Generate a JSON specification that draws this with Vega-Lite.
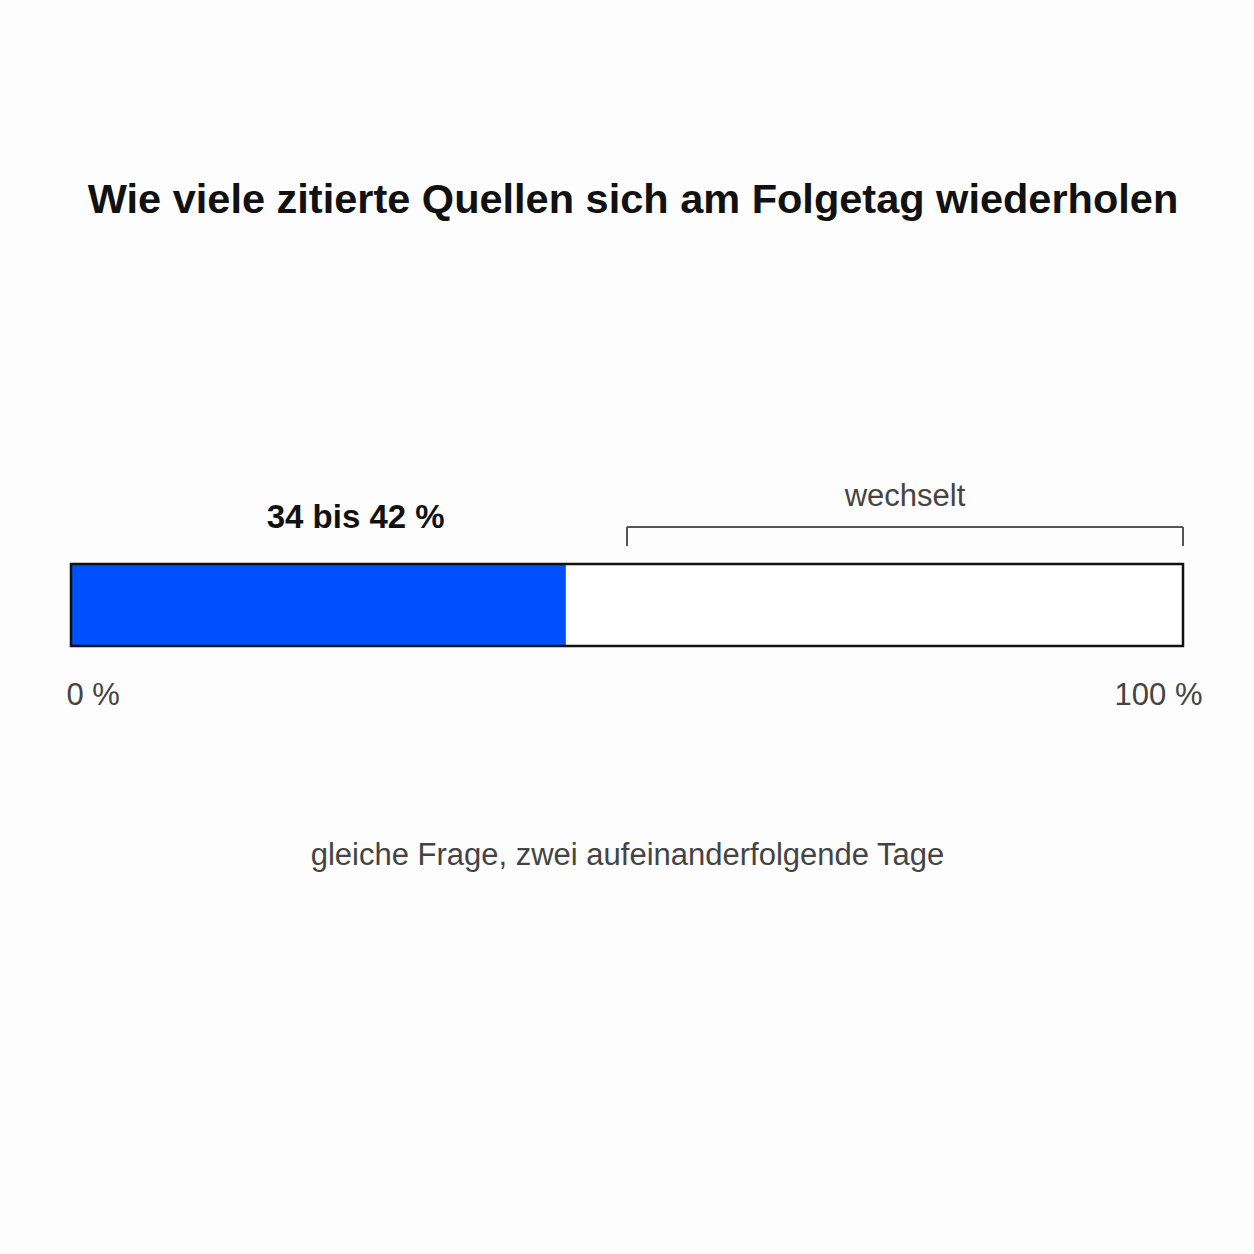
{
  "$schema": "https://vega.github.io/schema/vega-lite/v6.json",
  "autosize": "none",
  "width": 1112,
  "height": 200,
  "padding": {"left": 71, "top": 446, "right": 71, "bottom": 608},
  "background": "#fdfdfd",
  "config": {"view": {"stroke": null}, "font": "Liberation Sans"},
  "title": {
    "text": "Wie viele zitierte Quellen sich am Folgetag wiederholen",
    "font": "Liberation Sans",
    "fontSize": 41.5,
    "fontWeight": "bold",
    "color": "#111111",
    "anchor": "middle",
    "dx": 6,
    "offset": 225
  },
  "datasets": {
    "bars": [
      {"part": "gleich", "from": 0, "to": 44.5}
    ],
    "frame": [
      {"from": 0, "to": 100, "low": 0, "high": 4.1}
    ],
    "bracket": [
      {"x": 50, "x2": 100, "y": 5.95, "y2": 5.95},
      {"x": 50, "x2": 50, "y": 5.0, "y2": 5.95},
      {"x": 100, "x2": 100, "y": 5.0, "y2": 5.95}
    ],
    "valueLabel": [
      {"text": "34 bis 42 %", "x": 25.6, "y": 6.4}
    ],
    "noteLabel": [
      {"text": "wechselt", "x": 75, "y": 7.45}
    ]
  },
  "layer": [
    {
      "data": {"name": "frame"},
      "mark": {"type": "rect", "fill": "#ffffff"},
      "encoding": {
        "x": {
          "field": "from", "type": "quantitative",
          "scale": {"domain": [0, 100], "nice": false},
          "axis": {
            "values": [0, 100],
            "domain": false,
            "ticks": false,
            "grid": false,
            "labelExpr": "datum.value + ' %'",
            "labelFont": "Liberation Sans",
            "labelFontSize": 31,
            "labelColor": "#444444",
            "labelPadding": 34,
            "labelAlign": {"condition": {"test": "datum.value == 0", "value": "left"}, "value": "right"},
            "labelOffset": {"condition": {"test": "datum.value == 0", "value": -5}, "value": 19},
            "title": "gleiche Frage, zwei aufeinanderfolgende Tage",
            "titleFont": "Liberation Sans",
            "titleFontSize": 31,
            "titleFontWeight": "normal",
            "titleColor": "#444444",
            "titlePadding": 130
          }
        },
        "x2": {"field": "to"},
        "y": {
          "field": "low", "type": "quantitative",
          "scale": {"domain": [0, 10], "nice": false},
          "axis": null
        },
        "y2": {"field": "high"}
      }
    },
    {
      "data": {"name": "bars"},
      "mark": {"type": "rect", "fill": "#0050ff"},
      "encoding": {
        "x": {"field": "from", "type": "quantitative"},
        "x2": {"field": "to"},
        "y": {"datum": 0, "type": "quantitative"},
        "y2": {"datum": 4.1}
      }
    },
    {
      "data": {"name": "frame"},
      "mark": {"type": "rect", "fill": null, "fillOpacity": 0, "stroke": "#111111", "strokeWidth": 2.5},
      "encoding": {
        "x": {"field": "from", "type": "quantitative"},
        "x2": {"field": "to"},
        "y": {"field": "low", "type": "quantitative"},
        "y2": {"field": "high"}
      }
    },
    {
      "data": {"name": "bracket"},
      "mark": {"type": "rule", "color": "#555555", "strokeWidth": 2},
      "encoding": {
        "x": {"field": "x", "type": "quantitative"},
        "x2": {"field": "x2"},
        "y": {"field": "y", "type": "quantitative"},
        "y2": {"field": "y2"}
      }
    },
    {
      "data": {"name": "valueLabel"},
      "mark": {"type": "text", "baseline": "middle", "align": "center", "font": "Liberation Sans", "fontSize": 33, "fontWeight": "bold", "color": "#111111"},
      "encoding": {
        "x": {"field": "x", "type": "quantitative"},
        "y": {"field": "y", "type": "quantitative"},
        "text": {"field": "text"}
      }
    },
    {
      "data": {"name": "noteLabel"},
      "mark": {"type": "text", "baseline": "middle", "align": "center", "font": "Liberation Sans", "fontSize": 31, "color": "#444444"},
      "encoding": {
        "x": {"field": "x", "type": "quantitative"},
        "y": {"field": "y", "type": "quantitative"},
        "text": {"field": "text"}
      }
    }
  ]
}
